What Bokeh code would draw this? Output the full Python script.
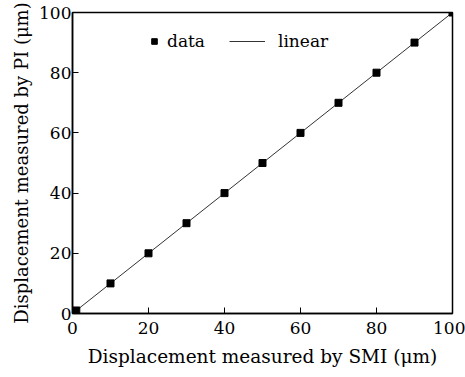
from bokeh.plotting import figure
from bokeh.models import Range1d, Legend, LegendItem, FixedTicker
from bokeh.embed import file_html
from bokeh.resources import INLINE

smi = [1, 10, 20, 30, 40, 50, 60, 70, 80, 90, 100]
pi = [1, 10, 20, 30, 40, 50, 60, 70, 80, 90, 100]
fit_x = [0, 100]
fit_y = [0, 100]
ticks = [0, 20, 40, 60, 80, 100]

FONT = "DejaVu Serif"

p = figure(width=465, height=377, output_backend="svg", toolbar_location=None,
           x_range=Range1d(0, 100), y_range=Range1d(0, 100),
           min_border_left=72, min_border_right=13, min_border_top=12, min_border_bottom=64)
p.background_fill_color = "white"
p.border_fill_color = "white"
p.outline_line_color = "black"
p.outline_line_width = 1.5
p.xgrid.visible = False
p.ygrid.visible = False

lin = p.line(fit_x, fit_y, line_color="#333333", line_width=1)
dat = p.scatter(smi, pi, marker="square", size=7, color="black")

for ax in (p.xaxis[0], p.yaxis[0]):
    ax.ticker = FixedTicker(ticks=ticks)
    ax.axis_line_color = "black"
    ax.axis_line_width = 1.5
    ax.major_tick_in = 6
    ax.major_tick_out = 0
    ax.major_tick_line_color = "black"
    ax.major_tick_line_width = 1
    ax.minor_tick_line_color = None
    ax.major_label_text_font = FONT
    ax.major_label_text_font_size = "17px"
    ax.major_label_text_color = "black"
    ax.axis_label_text_font = FONT
    ax.axis_label_text_font_style = "normal"
    ax.axis_label_text_color = "black"

p.xaxis.axis_label_text_font_size = "18.5px"
p.yaxis.axis_label_text_font_size = "18px"
p.xaxis.axis_label = "Displacement measured by SMI (μm)"
p.yaxis.axis_label = "Displacement measured by PI (μm)"
p.xaxis.major_label_standoff = 8
p.yaxis.major_label_standoff = 1
p.xaxis.axis_label_standoff = 9
p.yaxis.axis_label_standoff = 4

leg1 = Legend(items=[LegendItem(label="data", renderers=[dat])],
              location=(75, 262), glyph_width=14, label_standoff=6)
leg2 = Legend(items=[LegendItem(label="linear", renderers=[lin])],
              location=(157, 262), glyph_width=36, label_standoff=13)
for lg in (leg1, leg2):
    lg.border_line_color = None
    lg.background_fill_alpha = 0
    lg.label_text_font = FONT
    lg.label_text_font_size = "17px"
    lg.label_text_color = "black"
    p.add_layout(lg)

open("out.html", "w").write(file_html(p, INLINE))
